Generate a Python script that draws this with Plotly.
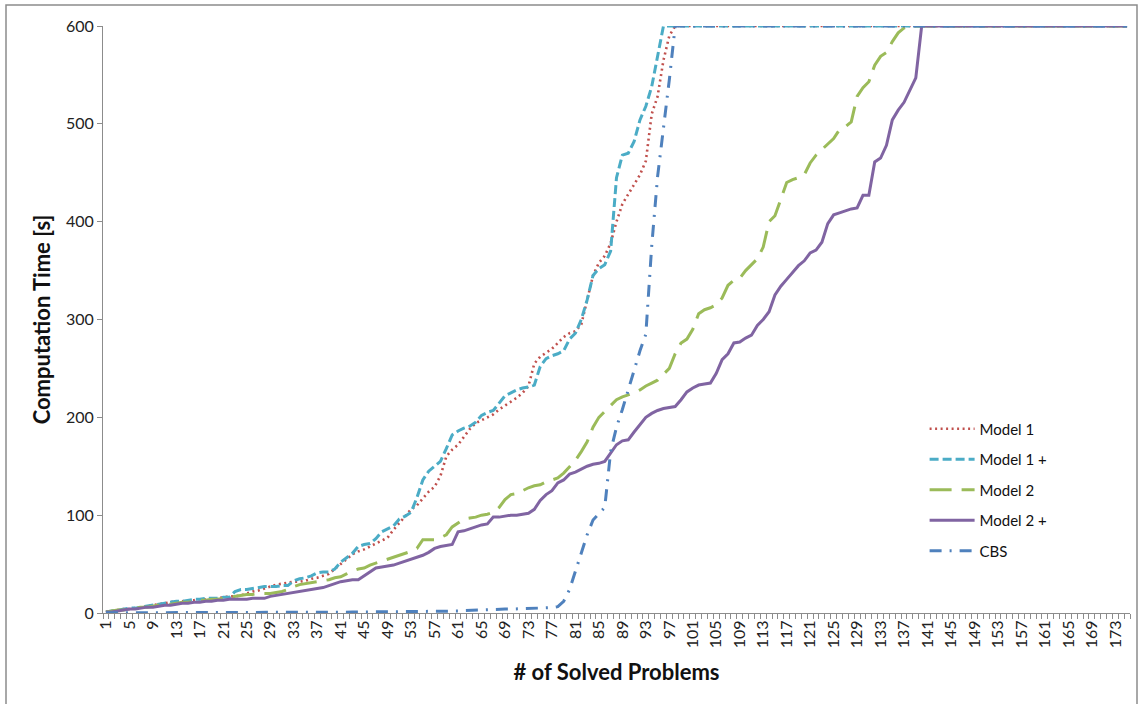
import plotly.graph_objects as go

problems = list(range(1, 176))

model1 = [
    1, 2, 3, 4, 4, 5, 6, 7, 8, 9,
    10, 11, 12, 12, 13, 13, 14, 14, 15, 15,
    16, 17, 17, 18, 20, 22, 23, 25, 27, 29,
    30, 31, 32, 32, 33, 35, 36, 38, 40, 45,
    50, 55, 60, 63, 65, 68, 71, 74, 77, 85,
    92, 100, 106, 110, 117, 124, 129, 140, 160, 167,
    172, 180, 188, 194, 197, 200, 203, 208, 212, 216,
    220, 225, 232, 255, 262, 266, 270, 276, 282, 286,
    288, 295, 320, 345, 358, 365, 378, 400, 418, 428,
    437, 448, 462, 510, 528, 565, 590, 600, 600, 600,
    600, 600, 600, 600, 600, 600, 600, 600, 600, 600,
    600, 600, 600, 600, 600, 600, 600, 600, 600, 600,
    600, 600, 600, 600, 600, 600, 600, 600, 600, 600,
    600, 600, 600, 600, 600, 600, 600, 600, 600, 600,
    600, 600, 600, 600, 600, 600, 600, 600, 600, 600,
    600, 600, 600, 600, 600, 600, 600, 600, 600, 600,
    600, 600, 600, 600, 600, 600, 600, 600, 600, 600,
    600, 600, 600, 600, 600,
]

model1_plus = [
    1, 2, 3, 4, 5, 5, 6, 7, 8, 9,
    10, 11, 12, 12, 13, 14, 14, 15, 15, 15,
    16, 16, 22, 24, 24, 25, 26, 27, 27, 27,
    28, 28, 33, 35, 36, 38, 41, 42, 42, 45,
    52, 57, 61, 68, 70, 71, 76, 83, 86, 89,
    96, 99, 103, 118, 136, 145, 150, 155, 168, 182,
    186, 189, 191, 195, 202, 205, 207, 215, 222, 225,
    228, 230, 231, 233, 252, 260, 263, 265, 268, 280,
    286, 300, 320, 345, 352, 356, 370, 445, 468, 470,
    482, 504, 518, 538, 570, 600, 600, 600, 600, 600,
    600, 600, 600, 600, 600, 600, 600, 600, 600, 600,
    600, 600, 600, 600, 600, 600, 600, 600, 600, 600,
    600, 600, 600, 600, 600, 600, 600, 600, 600, 600,
    600, 600, 600, 600, 600, 600, 600, 600, 600, 600,
    600, 600, 600, 600, 600, 600, 600, 600, 600, 600,
    600, 600, 600, 600, 600, 600, 600, 600, 600, 600,
    600, 600, 600, 600, 600, 600, 600, 600, 600, 600,
    600, 600, 600, 600, 600,
]

model2 = [
    1, 2, 3, 3, 4, 5, 6, 6, 7, 8,
    9, 9, 10, 11, 11, 12, 13, 13, 14, 14,
    15, 16, 17, 18, 19, 19, 20, 20, 20, 21,
    22, 24, 27, 29, 30, 31, 32, 33, 34, 36,
    37, 40, 43, 45, 46, 49, 51, 53, 55, 57,
    59, 61, 63, 66, 75, 75, 75, 77, 80, 88,
    92, 96, 97, 98, 100, 101, 103, 108, 116, 121,
    122, 125, 128, 130, 131, 134, 136, 138, 143, 150,
    156, 165, 175, 190, 200, 206, 212, 218, 221, 223,
    225, 228, 232, 235, 238, 244, 250, 265, 276, 280,
    290, 306, 310, 312, 315, 322, 335, 340, 342, 350,
    356, 362, 374, 400, 406, 422, 440, 443, 445, 448,
    460, 468, 474, 480, 485, 494, 497, 502, 528, 537,
    543, 560, 569, 573, 584, 593, 598, 600, 600, 600,
    600, 600, 600, 600, 600, 600, 600, 600, 600, 600,
    600, 600, 600, 600, 600, 600, 600, 600, 600, 600,
    600, 600, 600, 600, 600, 600, 600, 600, 600, 600,
    600, 600, 600, 600, 600,
]

model2_plus = [
    1, 1, 2, 3, 4, 4, 5, 6, 6, 7,
    8, 8, 9, 10, 10, 11, 11, 12, 12, 13,
    13, 14, 14, 14, 14, 15, 15, 15, 17, 18,
    19, 20, 21, 22, 23, 24, 25, 26, 28, 30,
    32, 33, 34, 34, 38, 42, 46, 47, 48, 49,
    51, 53, 55, 57, 59, 62, 66, 68, 69, 70,
    83, 84, 86, 88, 90, 91, 98, 98, 99, 100,
    100, 101, 102, 106, 115, 121, 125, 133, 136, 142,
    144, 147, 150, 152, 153, 155, 163, 172, 176, 177,
    185, 192, 200, 204, 207, 209, 210, 211, 218, 226,
    230, 233, 234, 235, 245, 259, 265, 276, 277, 281,
    284, 294, 300, 308, 325, 334, 341, 348, 355, 360,
    368, 371, 379, 398, 407, 409, 411, 413, 414, 427,
    427, 461, 465, 478, 504, 514, 522, 535, 547, 600,
    600, 600, 600, 600, 600, 600, 600, 600, 600, 600,
    600, 600, 600, 600, 600, 600, 600, 600, 600, 600,
    600, 600, 600, 600, 600, 600, 600, 600, 600, 600,
    600, 600, 600, 600, 600,
]

cbs = [
    0.2, 0.2, 0.3, 0.3, 0.3, 0.3, 0.4, 0.4, 0.4, 0.4,
    0.4, 0.4, 0.5, 0.5, 0.5, 0.5, 0.5, 0.5, 0.5, 0.5,
    0.5, 0.5, 0.5, 0.6, 0.6, 0.6, 0.6, 0.6, 0.6, 0.6,
    0.6, 0.6, 0.7, 0.7, 0.7, 0.7, 0.7, 0.7, 0.8, 0.8,
    0.8, 0.8, 0.9, 1.0, 1.2, 1.2, 1.2, 1.3, 1.3, 1.3,
    1.3, 1.4, 1.4, 1.4, 1.5, 1.5, 1.5, 1.6, 1.6, 1.7,
    2.0, 2.5, 2.8, 3.0, 3.2, 3.4, 3.6, 3.8, 4.0, 4.0,
    4.2, 4.4, 4.6, 4.8, 5.0, 5.2, 5.5, 6.5, 12, 24,
    42, 62, 80, 95, 102, 108, 165, 190, 208, 228,
    248, 268, 285, 375, 446, 495, 545, 600, 600, 600,
    600, 600, 600, 600, 600, 600, 600, 600, 600, 600,
    600, 600, 600, 600, 600, 600, 600, 600, 600, 600,
    600, 600, 600, 600, 600, 600, 600, 600, 600, 600,
    600, 600, 600, 600, 600, 600, 600, 600, 600, 600,
    600, 600, 600, 600, 600, 600, 600, 600, 600, 600,
    600, 600, 600, 600, 600, 600, 600, 600, 600, 600,
    600, 600, 600, 600, 600, 600, 600, 600, 600, 600,
    600, 600, 600, 600, 600,
]

x_tick_labels = [str(v) for v in range(1, 176, 4)]
y_ticks = [0, 100, 200, 300, 400, 500, 600]

series = [
    ("Model 1", model1, "#C0504D", "2px,3.5px", 2.6),
    ("Model 1 +", model1_plus, "#4BACC6", "9px,4px", 3),
    ("Model 2", model2, "#9BBB59", "22px,10px", 3),
    ("Model 2 +", model2_plus, "#8064A2", "solid", 3),
    ("CBS", cbs, "#4F81BD", "12px,8px,2px,8px", 3),
]

FONT = "Lato, 'Open Sans', sans-serif"

fig = go.Figure()
for i, (name, vals, color, dash, w) in enumerate(series):
    fig.add_trace(go.Scatter(
        x=problems, y=vals, mode="lines", name=name,
        legendgroup=f"g{i}",
        line=dict(color=color, dash=dash, width=w),
    ))

fig.update_layout(
    width=1140, height=704,
    margin=dict(l=103, r=10, t=26, b=91, autoexpand=False),
    paper_bgcolor="white", plot_bgcolor="white",
    font=dict(family=FONT, size=15, color="#222"),
    showlegend=True,
    legend=dict(
        x=0.80, y=0.3415, xanchor="left", yanchor="top",
        tracegroupgap=8, font=dict(size=15, color="#111"),
        itemwidth=45,
        bgcolor="rgba(0,0,0,0)",
    ),
    xaxis=dict(
        range=[0.5, 175.5],
        automargin=False,
        tickmode="array",
        tickvals=list(range(1, 176, 4)),
        ticktext=x_tick_labels,
        tickangle=-90,
        ticks="",
        showgrid=False, zeroline=False,
        showline=True, linecolor="#8C8C8C", linewidth=1,
        tickfont=dict(size=16, color="#222"),
        minor=dict(ticks="outside", tickmode="linear", tick0=0.5, dtick=1,
                   ticklen=5, tickcolor="#8C8C8C", showgrid=False),
        title=dict(text="<b># of Solved Problems</b>", font=dict(size=22, color="#111"),
                   standoff=17),
    ),
    yaxis=dict(
        range=[0, 600],
        automargin=False,
        tickvals=y_ticks,
        ticks="outside", ticklen=5, tickcolor="#8C8C8C",
        showgrid=False, zeroline=False,
        showline=True, linecolor="#8C8C8C", linewidth=1,
        tickfont=dict(size=16, color="#222"),
        title=dict(text="<b>Computation Time [s]</b>", font=dict(size=22, color="#111"),
                   standoff=9),
    ),
)

# chart-area border
fig.add_shape(type="rect", xref="paper", yref="paper",
              x0=(6 - 103) / 1027, x1=(1137 - 103) / 1027,
              y0=(613 - 712) / 587, y1=(613 - 5) / 587,
              line=dict(color="#8C8C8C", width=1.5), layer="below")

fig.write_html(
    "out.html",
    config={"displayModeBar": False},
    post_script="document.body.style.margin='0';document.body.style.overflow='hidden';",
)
